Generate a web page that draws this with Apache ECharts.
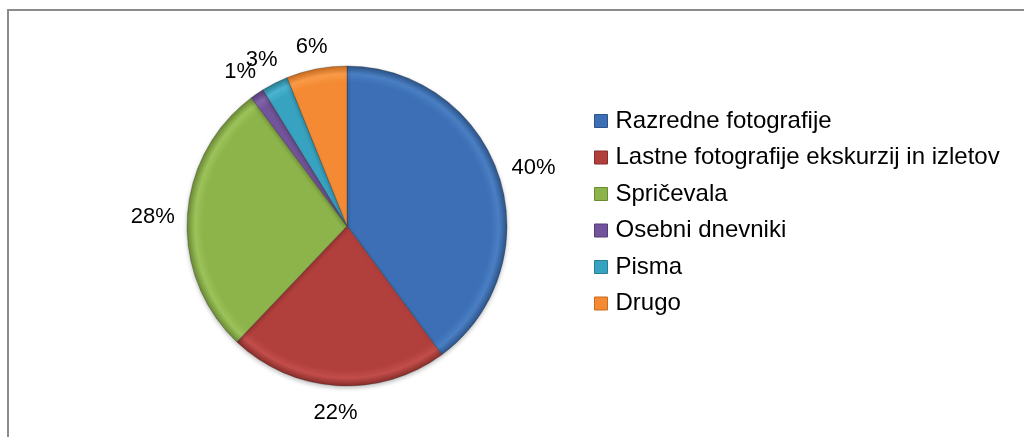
<!DOCTYPE html>
<html lang="sl">
<head>
    <meta charset="UTF-8">
    <title>Pie</title>
    <style>
        html, body { margin: 0; padding: 0; background: #fff; }
    </style>
</head>
<body>
<div id="main" style="width: 1024px;height:437px;"></div>
<script src="https://cdn.jsdelivr.net/npm/echarts@6/dist/echarts.min.js"></script>
<script type="text/javascript">
    var categories = ["Razredne fotografije", "Lastne fotografije ekskurzij in izletov", "Spričevala", "Osebni dnevniki", "Pisma", "Drugo"];
    var values = [39.9, 22.2, 27.7, 1.4, 2.7, 6.1];
    var colors = ["#3c6fb5", "#b13f3c", "#8db44a", "#72549a", "#38a3c0", "#f48a33"];
    var lightColors = ["#4a7fc4", "#c24d4a", "#9cc25a", "#8064a8", "#4ab3cf", "#f99a48"];
    var edgeColors = ["#2c5488", "#862d2a", "#6a8a34", "#553d78", "#287e96", "#c96c1e"];

    var cx = 347, cy = 226, R = 160;
    var font = "'Liberation Sans', Arial, sans-serif";

    var myChart = echarts.init(document.getElementById("main"));

    var data = categories.map(function (name, i) {
        return {
            name: name,
            value: values[i],
            itemStyle: {
                color: {
                    type: "radial", x: cx, y: cy, r: R, global: true,
                    colorStops: [
                        {offset: 0, color: colors[i]},
                        {offset: 0.9, color: colors[i]},
                        {offset: 0.95, color: lightColors[i]},
                        {offset: 1, color: edgeColors[i]}
                    ]
                }
            }
        };
    });

    var option = {
        backgroundColor: "#fff",
        animation: false,
        graphic: [{
            type: "rect",
            shape: {x: 8, y: 10, width: 1100, height: 600},
            style: {fill: "none", stroke: "#8c8c8c", lineWidth: 2}
        }],
        legend: {
            orient: "vertical",
            left: 594,
            top: 109,
            padding: 0,
            itemWidth: 13,
            itemHeight: 13,
            itemGap: 12.5,
            icon: "rect",
            textStyle: {fontFamily: font, fontSize: 24, lineHeight: 24, color: "#000", padding: [0, 0, 0, 3]},
            data: categories.map(function (c, i) {
                return {name: c, itemStyle: {color: colors[i], borderColor: edgeColors[i], borderWidth: 1}};
            })
        },
        series: [{
            type: "pie",
            center: [cx, cy],
            radius: R,
            startAngle: 90,
            clockwise: true,
            percentPrecision: 0,
            data: data,
            itemStyle: {
                borderColor: "rgba(40,40,40,0.3)",
                borderWidth: 1,
                shadowBlur: 4,
                shadowColor: "rgba(0,0,0,0.25)",
                shadowOffsetY: 2
            },
            label: {
                show: true,
                position: "outside",
                formatter: "{d}%",
                fontFamily: font,
                fontSize: 22,
                color: "#000"
            },
            labelLine: {show: false, length: 10, length2: 0},
            labelLayout: function (p) {
                var a = p.labelLinePoints ? p.labelLinePoints[0] : [cx, cy - R];
                var dx = (a[0] - cx) / R, dy = (a[1] - cy) / R;
                var w = p.labelRect.width, h = p.labelRect.height;
                var d = R + 12 + Math.abs(dx) * w / 2 + Math.abs(dy) * h / 2;
                return {
                    x: cx + dx * d,
                    y: cy + dy * d + 3,
                    align: "center",
                    verticalAlign: "middle"
                };
            }
        }]
    };

    myChart.setOption(option);
</script>
</body>
</html>
